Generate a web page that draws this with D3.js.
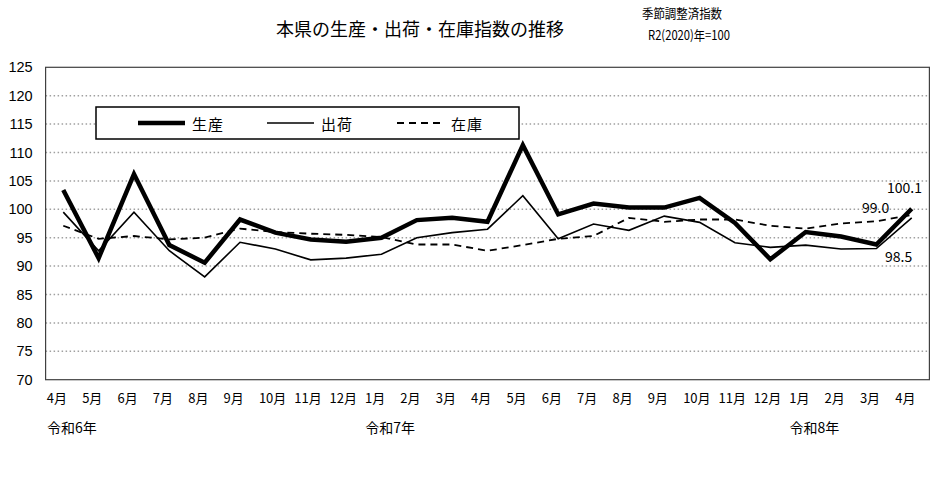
<!DOCTYPE html>
<html><head><meta charset="utf-8">
<script src="https://cdn.jsdelivr.net/npm/d3@7"></script>
<style>
html,body{margin:0;padding:0;background:#fff;}
svg{display:block;}
</style></head>
<body>
<svg id="chart" width="932" height="479"></svg>
<script>
const months = ["4月","5月","6月","7月","8月","9月","10月","11月","12月","1月","2月","3月","4月","5月","6月","7月","8月","9月","10月","11月","12月","1月","2月","3月","4月"];
const yearLabels = [{i:0,t:"令和6年"},{i:9,t:"令和7年"},{i:21,t:"令和8年"}];
const production = [103.4, 91.4, 106.2, 93.7, 90.6, 98.2, 95.9, 94.7, 94.3, 95.0, 98.1, 98.5, 97.8, 111.3, 99.1, 101.0, 100.3, 100.3, 102.0, 97.6, 91.2, 96.0, 95.2, 93.8, 100.1];
const shipments  = [99.5, 92.7, 99.5, 92.7, 88.1, 94.2, 93.0, 91.1, 91.4, 92.1, 95.0, 95.9, 96.5, 102.4, 94.8, 97.4, 96.3, 98.8, 97.7, 94.1, 93.3, 93.7, 93.0, 93.1, 98.5];
const inventory  = [97.1, 94.8, 95.3, 94.7, 95.0, 96.6, 96.0, 95.7, 95.5, 95.1, 93.8, 93.8, 92.7, 93.7, 94.8, 95.3, 98.5, 97.8, 98.2, 98.2, 97.1, 96.6, 97.5, 97.9, 99.0];
const yTicks = [70,75,80,85,90,95,100,105,110,115,120,125];
const seriesNames = ["生産","出荷","在庫"];

const svg = d3.select("#chart");
const L = 45.6, R = 929.4, T = 67.3, B = 379.7;
const jp = "'Noto Sans CJK JP','Noto Sans',sans-serif";

const x = d3.scaleBand().domain(d3.range(months.length)).range([L, R]);
const y = d3.scaleLinear().domain([70,125]).range([B, T]);
const cx = i => x(i) + x.bandwidth()/2;

// gridlines
svg.append("g").selectAll("line").data(yTicks.filter(v => v>70 && v<125)).join("line")
  .attr("x1", L).attr("x2", R).attr("y1", d=>y(d)).attr("y2", d=>y(d))
  .attr("stroke", "#a0a0a0").attr("stroke-width", 1.5).attr("stroke-dasharray", "1.5,2.5");

// plot border
svg.append("rect").attr("x", L).attr("y", T).attr("width", R-L).attr("height", B-T)
  .attr("fill", "none").attr("stroke", "#404040").attr("stroke-width", 1.2);

// y axis
const yAxis = d3.axisLeft(y).tickValues(yTicks).tickSize(0).tickPadding(13);
const gy = svg.append("g").attr("transform", `translate(${L},0)`).call(yAxis);
gy.select(".domain").remove();
gy.selectAll("text").attr("font-family", "'Liberation Sans',Arial,sans-serif").attr("font-size", 14.5).attr("fill", "#000");

// x labels (left aligned at band start)
svg.append("g").selectAll("text").data(months).join("text")
  .attr("x", (d,i)=>x(i)+1.2).attr("y", 403)
  .attr("font-family", jp).attr("font-size", 13).attr("fill", "#000")
  .text(d=>d);
svg.append("g").selectAll("text").data(yearLabels).join("text")
  .attr("x", d=>x(d.i)+1.5).attr("y", 433)
  .attr("font-family", jp).attr("font-size", 14).attr("fill", "#000")
  .text(d=>d.t);

// lines
const line = d3.line().x((d,i)=>cx(i)).y(d=>y(d));
const styles = [
  {data: production, w: 4.5, dash: null},
  {data: shipments, w: 1.6, dash: null},
  {data: inventory, w: 1.8, dash: "7,5"}
];
// draw inventory first, then shipments, then production
[2,1,0].forEach(k => {
  const s = styles[k];
  svg.append("path").datum(s.data).attr("d", line)
    .attr("fill","none").attr("stroke","#000").attr("stroke-width", s.w)
    .attr("stroke-linejoin","miter").attr("stroke-dasharray", s.dash);
});

// data labels for last values
const last = months.length-1;
const lbl = [
  {v: production[last], x: 887, y: 193},
  {v: inventory[last], x: 862, y: 213},
  {v: shipments[last], x: 885, y: 262}
];
svg.append("g").selectAll("text").data(lbl).join("text")
  .attr("x", d=>d.x).attr("y", d=>d.y)
  .attr("font-family", jp).attr("font-size", 14).attr("fill", "#000")
  .text(d=>d.v.toFixed(1));

// legend
const lg = svg.append("g");
lg.append("rect").attr("x", 96).attr("y", 107).attr("width", 423).attr("height", 32)
  .attr("fill", "#fff").attr("stroke", "#000").attr("stroke-width", 1.5);
const legX = [138, 267, 397];
seriesNames.forEach((n,k) => {
  const s = styles[k];
  lg.append("line").attr("x1", legX[k]).attr("x2", legX[k]+47).attr("y1", 123).attr("y2", 123)
    .attr("stroke","#000").attr("stroke-width", s.w).attr("stroke-dasharray", s.dash);
  lg.append("text").attr("x", legX[k]+54).attr("y", 129.5)
    .attr("font-family", jp).attr("font-size", 15).attr("letter-spacing", 1).attr("fill","#000").text(n);
});

// title
svg.append("text").attr("x", 420).attr("y", 36).attr("text-anchor","middle")
  .attr("font-family", jp).attr("font-size", 18).attr("fill","#000")
  .text("本県の生産・出荷・在庫指数の推移");
svg.append("text").attr("x", 642).attr("y", 18)
  .attr("font-family", jp).attr("font-size", 13).attr("textLength", 80).attr("lengthAdjust","spacingAndGlyphs")
  .attr("fill","#000").text("季節調整済指数");
svg.append("text").attr("x", 648).attr("y", 40)
  .attr("font-family", jp).attr("font-size", 13).attr("textLength", 82).attr("lengthAdjust","spacingAndGlyphs")
  .attr("fill","#000").text("R2(2020)年=100");
</script>
</body></html>
